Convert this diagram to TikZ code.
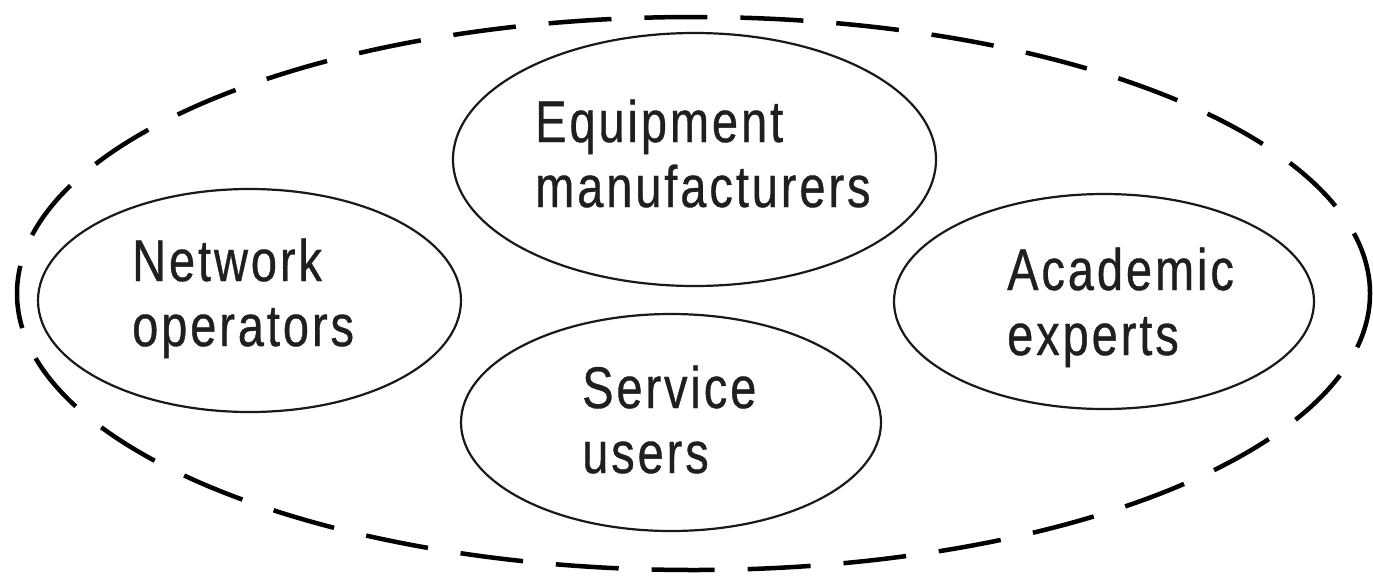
\documentclass[tikz,border=0pt]{standalone}
\usepackage{fontspec}
\newfontfamily\labelfont[FakeStretch=0.8,LetterSpace=5,FakeBold=0.6]{Liberation Sans}
\usetikzlibrary{shapes.geometric}
\begin{document}
\begin{tikzpicture}[x=1pt,y=-1pt,
  group/.style={ellipse,draw=black!90,line width=2.2pt,inner sep=0pt},
  outerset/.style={ellipse,draw=black,line width=4.5pt,dash pattern=on 63pt off 33pt,inner sep=0pt},
  lbl/.style={anchor=base west,inner sep=0pt,align=left,text=black!88,
    font=\labelfont\fontsize{58.7pt}{65pt}\selectfont}]
\useasboundingbox (0,0) rectangle (1373,579);
\node[outerset,minimum width=1353pt,minimum height=553pt] (outer) at (693.5,293.5) {};
\node[group,minimum width=483pt,minimum height=253pt] (equip) at (694.5,159.5) {};
\node[group,minimum width=423pt,minimum height=223pt] (netw) at (249.5,300.5) {};
\node[group,minimum width=420pt,minimum height=215pt] (acad) at (1104,301.5) {};
\node[group,minimum width=420pt,minimum height=217pt] (serv) at (671,422.5) {};
\node[lbl] (equipT) at (535,207) {Equipment\\manufacturers};
\node[lbl] (netwT) at (132,346) {Network\\operators};
\node[lbl] (acadT) at (1007,355) {Academic\\experts};
\node[lbl] (servT) at (582,473) {Service\\users};
\end{tikzpicture}
\end{document}
